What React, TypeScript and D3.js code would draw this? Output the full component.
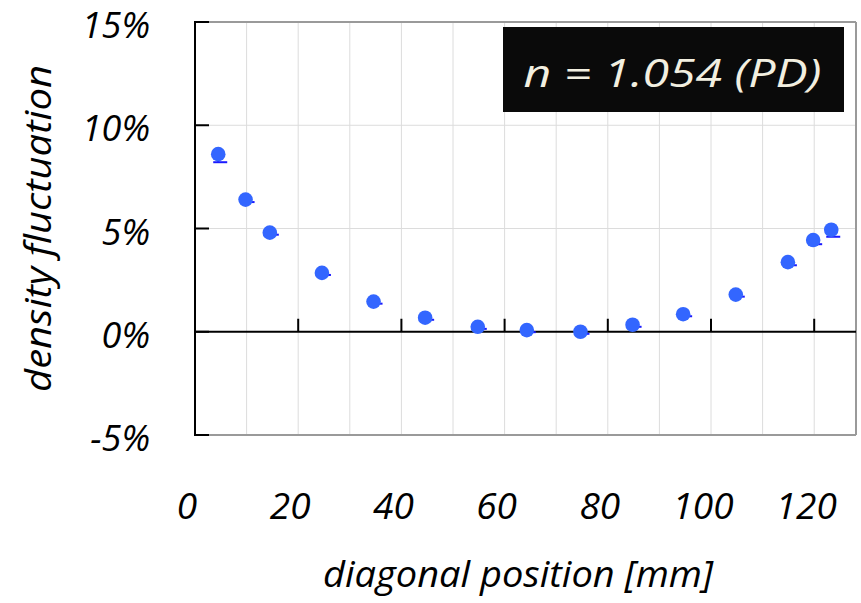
import React from 'react';
import * as d3 from 'd3';

// diagonal position [mm] and density fluctuation [%]
const positions = [4.5, 9.8, 14.5, 24.6, 34.6, 44.6, 54.8, 64.3, 74.7, 84.8, 94.6, 104.8, 114.9, 119.8, 123.3];
const fluctuation = [8.6, 6.4, 4.8, 2.85, 1.46, 0.68, 0.24, 0.08, 0.0, 0.34, 0.85, 1.8, 3.37, 4.44, 4.94];
const lowerError = [0.39, 0.12, 0.1, 0.1, 0.1, 0.1, 0.1, 0.1, 0.1, 0.1, 0.1, 0.1, 0.15, 0.2, 0.34];

const xTicks = [0, 20, 40, 60, 80, 100, 120];
const xGrid = [10, 20, 30, 40, 50, 60, 70, 80, 90, 100, 110, 120];
const yTicks = [-5, 0, 5, 10, 15];
const yTickLabels = ['-5%', '0%', '5%', '10%', '15%'];
const label = 'n = 1.054 (PD)';

const W = 861;
const H = 603;
const left = 195;
const right = 856;
const top = 22;
const bottom = 435;

const font = '"Open Sans", sans-serif';

export default function App() {
  const x = d3.scaleLinear().domain([0, 128.1]).range([left, right]);
  const y = d3.scaleLinear().domain([-5, 15]).range([bottom, top]);

  return (
    <svg width={W} height={H} style={{ position: 'absolute', left: 0, top: 0, background: '#fff' }}>
      {/* grid */}
      {xGrid.map(v => (
        <line key={'gx' + v} x1={x(v)} x2={x(v)} y1={top} y2={bottom} stroke="#dcdcdc" strokeWidth={1} />
      ))}
      {[5, 10].map(v => (
        <line key={'gy' + v} x1={left} x2={right} y1={y(v)} y2={y(v)} stroke="#dcdcdc" strokeWidth={1} />
      ))}

      {/* frame */}
      <line x1={left} x2={right} y1={top} y2={top} stroke="#9a9a9a" strokeWidth={2} />
      <line x1={right} x2={right} y1={top} y2={bottom} stroke="#9a9a9a" strokeWidth={2} />
      <line x1={left} x2={right} y1={bottom} y2={bottom} stroke="#9a9a9a" strokeWidth={2} />

      {/* left axis */}
      <line x1={left} x2={left} y1={top - 1} y2={bottom + 1} stroke="#000" strokeWidth={2} />
      {yTicks.map(v => (
        <line key={'ty' + v} x1={left} x2={left + 14} y1={y(v)} y2={y(v)} stroke="#000" strokeWidth={2} />
      ))}

      {/* zero axis */}
      <line x1={left} x2={right} y1={y(0)} y2={y(0)} stroke="#000" strokeWidth={2} />
      {xTicks.filter(v => v > 0).map(v => (
        <line key={'tx' + v} x1={x(v)} x2={x(v)} y1={y(0)} y2={y(0) - 13} stroke="#000" strokeWidth={2} />
      ))}

      {/* error bars */}
      {positions.map((p, i) => {
        const cx = x(p);
        const cy = y(fluctuation[i]);
        const ey = y(fluctuation[i] - lowerError[i]);
        return (
          <g key={'e' + i} stroke="#1a1aff" strokeWidth={2}>
            <line x1={cx} x2={cx} y1={cy} y2={ey} />
            <line x1={cx - 5} x2={cx + 9} y1={ey} y2={ey} />
          </g>
        );
      })}

      {/* points */}
      {positions.map((p, i) => (
        <circle key={'p' + i} cx={x(p)} cy={y(fluctuation[i])} r={7.3} fill="#3366ff" />
      ))}

      {/* y tick labels */}
      {yTicks.map((v, i) => (
        <text key={'yl' + v} x={150} y={y(v) + 16} textAnchor="end"
          fontFamily={font} fontStyle="italic" fontSize={36} fill="#000">
          {yTickLabels[i]}
        </text>
      ))}

      {/* x tick labels */}
      {xTicks.map(v => (
        <text key={'xl' + v} x={x(v) - 8} y={519} textAnchor="middle"
          fontFamily={font} fontStyle="italic" fontSize={37} fill="#000">
          {v}
        </text>
      ))}

      {/* axis titles */}
      <text x={518} y={587} textAnchor="middle" fontFamily={font} fontStyle="italic" fontSize={36}
        textLength={390} lengthAdjust="spacingAndGlyphs" fill="#000">
        diagonal position [mm]
      </text>
      <text transform="translate(51,228.5) rotate(-90)" textAnchor="middle" fontFamily={font}
        fontStyle="italic" fontSize={36} textLength={327} lengthAdjust="spacingAndGlyphs" fill="#000">
        density fluctuation
      </text>

      {/* annotation box */}
      <rect x={503} y={27} width={341} height={85} fill="#0a0a0a" />
      <text x={672.5} y={87} textAnchor="middle" fontFamily={font} fontStyle="italic"
        fontSize={38} textLength={298} lengthAdjust="spacingAndGlyphs" fill="#f2efe0">
        {label}
      </text>
    </svg>
  );
}
